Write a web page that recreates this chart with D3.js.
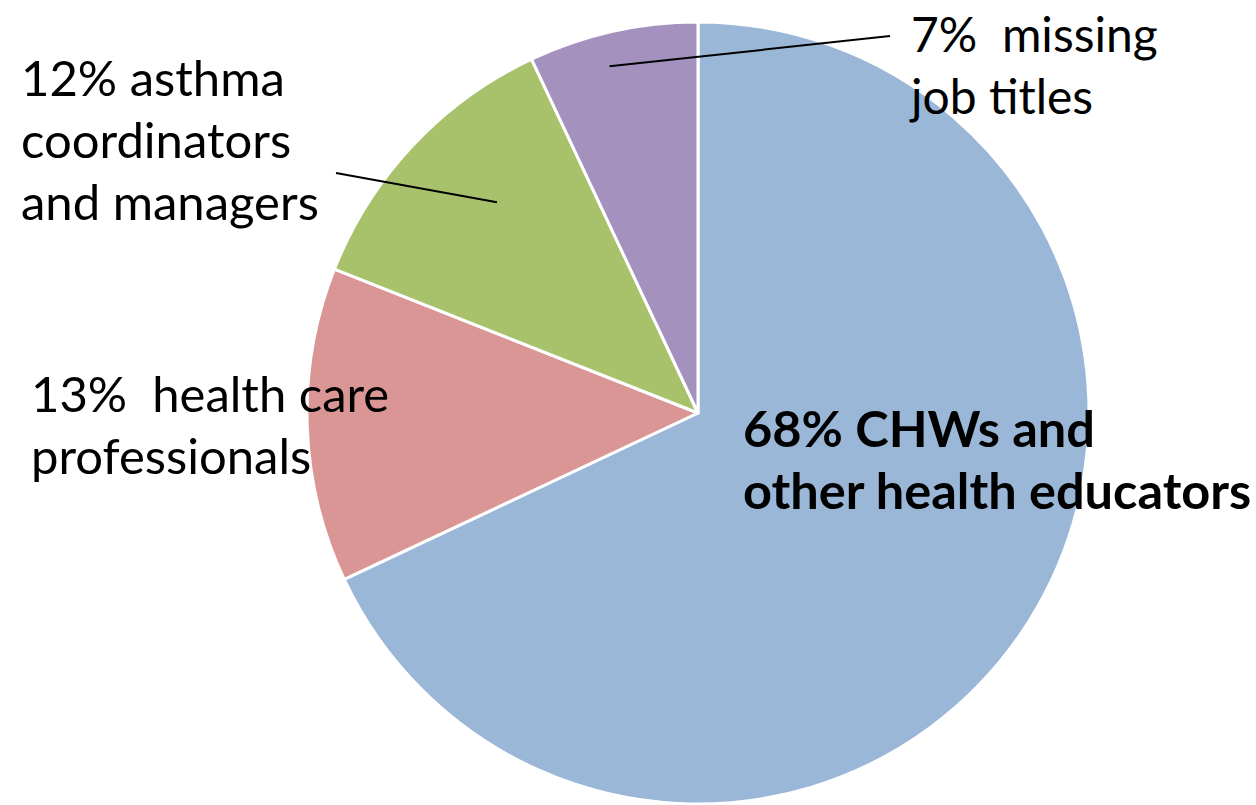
<!DOCTYPE html>
<html>
<head>
<meta charset="utf-8">
<script src="https://cdn.jsdelivr.net/npm/d3@7"></script>
<style>
  html, body { margin: 0; padding: 0; background: #fff; }
  svg { display: block; }
  text { font-family: Lato, "Open Sans", sans-serif; fill: #000; }
</style>
</head>
<body>
<svg id="chart" width="1256" height="805"></svg>
<script>
// ---- data ----
const categories = ["CHWs and other health educators", "health care professionals", "asthma coordinators and managers", "missing job titles"];
const values = [68, 13, 12, 7];
const colors = ["#9BB7D8", "#D99695", "#A8C26C", "#A491BE"];
const labelLines = [
  ["68% CHWs and", "other health educators"],
  ["13%  health care", "professionals"],
  ["12% asthma", "coordinators", "and managers"],
  ["7%  missing", "job titles"]
];

// ---- layout ----
const W = 1256, H = 805;
const cx = 698, cy = 413, R = 391;
const svg = d3.select("#chart");
const g = svg.append("g").attr("transform", `translate(${cx},${cy})`);

const pie = d3.pie().sort(null).value(d => d)(values);
const arc = d3.arc().innerRadius(0).outerRadius(R);

g.selectAll("path.slice")
  .data(pie)
  .join("path")
  .attr("class", "slice")
  .attr("d", arc)
  .attr("fill", (d, i) => colors[i])
  .attr("stroke", "#fff")
  .attr("stroke-width", 3)
  .attr("stroke-linejoin", "round");

// label placement (layout only)
const lh = 62;
const labelPos = [
  { x: 743, y: 447, bold: true, fs: 50.5 },
  { x: 31, y: 412, fs: 49 },
  { x: 21, y: 96, fs: 49 },
  { x: 911, y: 52, fs: 48 }
];
// leader lines: outer point, radius fraction and angle offset at slice end
const leaders = [
  null, null,
  { from: [336, 173], rf: 0.745, angOff: 0.055 },
  { from: [890, 36], rf: 0.915, angOff: -0.03 }
];

leaders.forEach((l, i) => {
  if (!l) return;
  const d = pie[i];
  const a = (d.startAngle + d.endAngle) / 2 + l.angOff;
  const r = R * l.rf;
  const tx = cx + r * Math.sin(a), ty = cy - r * Math.cos(a);
  svg.append("line")
    .attr("x1", l.from[0]).attr("y1", l.from[1])
    .attr("x2", tx).attr("y2", ty)
    .attr("stroke", "#000").attr("stroke-width", 2);
});

labelLines.forEach((lines, i) => {
  const p = labelPos[i];
  const t = svg.append("text")
    .attr("x", p.x).attr("y", p.y)
    .attr("font-size", p.fs)
    .attr("font-weight", p.bold ? 700 : 400)
    .attr("xml:space", "preserve")
    .style("white-space", "pre");
  lines.forEach((s, k) => {
    t.append("tspan").attr("x", p.x).attr("y", p.y + k * lh).text(s);
  });
});
</script>
</body>
</html>
